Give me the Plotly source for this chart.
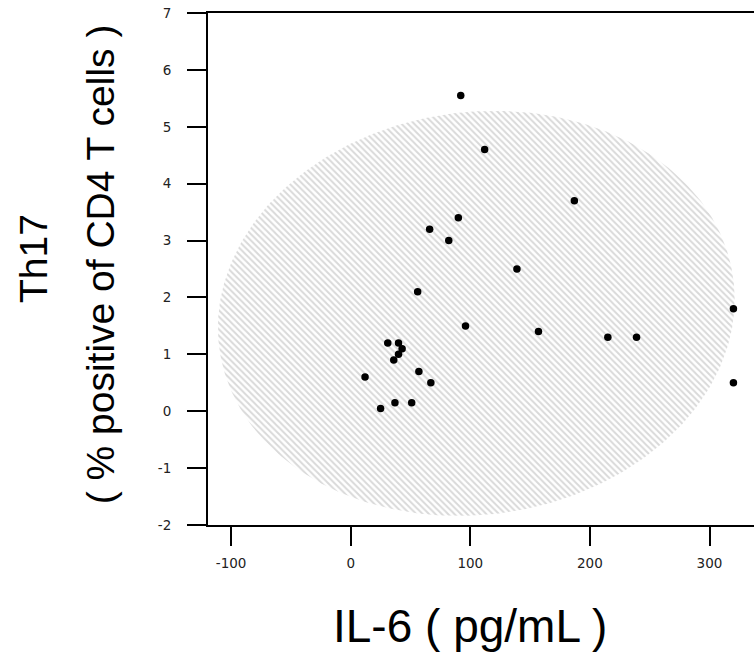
import numpy as np
import plotly.graph_objects as go

# IL-6 (pg/mL) and Th17 (% of CD4 T cells) per sample
il6 = [92, 112, 187, 90, 66, 82, 139, 56, 96, 157, 215, 239, 320, 320,
       31, 40, 43, 40, 36, 12, 57, 67, 25, 37, 51]
th17 = [5.55, 4.6, 3.7, 3.4, 3.2, 3.0, 2.5, 2.1, 1.5, 1.4, 1.3, 1.3, 1.8, 0.5,
        1.2, 1.2, 1.1, 1.0, 0.9, 0.6, 0.7, 0.5, 0.05, 0.15, 0.15]

x_ticks = [-100, 0, 100, 200, 300]
x_tick_text = ["-100", "0", "100", "200", "300"]
y_ticks = [-2, -1, 0, 1, 2, 3, 4, 5, 6, 7]
y_tick_text = ["-2", "-1", "0", "1", "2", "3", "4", "5", "6", "7"]

# confidence ellipse: centre, semi-axes and a small tilt
ell_cx, ell_cy = 105, 1.72
ell_a, ell_b = 216, 3.56
ell_phi = 0.07

t = np.linspace(0, 2 * np.pi, 361)
ex = ell_cx + ell_a * np.cos(t)
ey = ell_cy + ell_b * np.sin(t + ell_phi)

fig = go.Figure()
fig.add_trace(go.Scatter(
    x=ex, y=ey, mode="lines", fill="toself",
    line=dict(width=0, color="rgba(0,0,0,0)"),
    fillcolor="rgba(0,0,0,0)",
    fillpattern=dict(shape="\\", fgcolor="#b4b4b4", bgcolor="white",
                     size=4.5, solidity=0.45),
    hoverinfo="skip", showlegend=False,
))
fig.add_trace(go.Scatter(
    x=il6, y=th17, mode="markers",
    marker=dict(color="black", size=7.5),
    showlegend=False,
))

tick_font = dict(family="DejaVu Sans", size=13.5, color="#222222")
fig.update_xaxes(
    range=[-119.3, 337.2], tickvals=x_ticks, ticktext=x_tick_text,
    showline=True, linecolor="black", linewidth=2, mirror=True,
    ticks="outside", ticklen=19, tickwidth=2, tickcolor="black",
    ticklabelstandoff=6, showgrid=False, zeroline=False, tickfont=tick_font,
)
fig.update_yaxes(
    range=[-2, 7], tickvals=y_ticks, ticktext=y_tick_text,
    showline=True, linecolor="black", linewidth=2,
    ticks="outside", ticklen=19, tickwidth=2, tickcolor="black",
    ticklabelstandoff=13, showgrid=False, zeroline=False, tickfont=tick_font,
)

fig.update_layout(
    width=754, height=655,
    margin=dict(l=208, r=0, t=13, b=130),
    paper_bgcolor="white", plot_bgcolor="white",
    annotations=[
        dict(text="IL-6 ( pg/mL )", xref="paper", yref="paper",
             x=0.48, y=-0.197, xanchor="center", yanchor="middle",
             showarrow=False,
             font=dict(family="Liberation Sans", size=46, color="black")),
        dict(text="Th17", xref="paper", x=-0.32, xanchor="center",
             yref="paper", y=0.52, yanchor="middle", textangle=-90,
             showarrow=False,
             font=dict(family="Liberation Sans", size=39, color="black")),
        dict(text="( % positive of CD4 T cells )", xref="paper", x=-0.197,
             xanchor="center", yref="paper", y=0.51, yanchor="middle",
             textangle=-90, showarrow=False,
             font=dict(family="Liberation Sans", size=39, color="black")),
    ],
)

fig.write_html("out.html")
